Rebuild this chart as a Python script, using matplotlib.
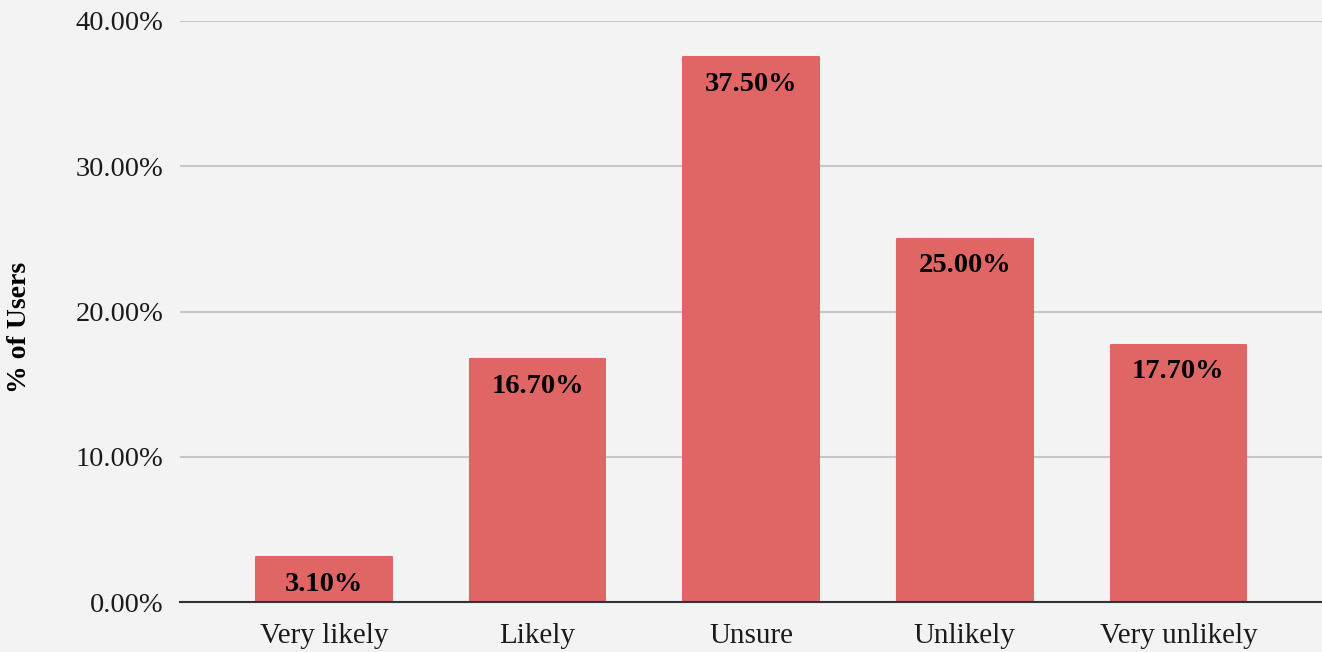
import matplotlib
matplotlib.use("Agg")
import matplotlib.pyplot as plt
from matplotlib.ticker import FuncFormatter

categories = ["Very likely", "Likely", "Unsure", "Unlikely", "Very unlikely"]
values = [3.10, 16.70, 37.50, 25.00, 17.70]
yticks = [0, 10, 20, 30, 40]

plt.rcParams['font.family'] = ['Liberation Serif', 'DejaVu Serif']

bg = "#f3f3f3"
bar_color = "#e06666"

fig = plt.figure(figsize=(13.22, 6.52), dpi=100, facecolor=bg)
ax = fig.add_axes([180/1322, 50/652, 1 - 180/1322, (602-21)/652])
ax.set_facecolor(bg)

x = list(range(len(categories)))
bars = ax.bar(x, values, width=0.635, color=bar_color, edgecolor=bar_color,
              linewidth=1.5, joinstyle='round', zorder=3)

for xi, v in zip(x, values):
    ax.annotate(f"{v:.2f}%", xy=(xi, v), xytext=(0, -19.5), textcoords="offset points",
                ha="center", va="center", fontsize=20.5, fontweight="bold", color="black", zorder=4)

ax.set_xlim(-0.674, 4.672)
ax.set_ylim(0, 40)
ax.set_yticks(yticks)
ax.yaxis.set_major_formatter(FuncFormatter(lambda v, p: f"{v:.2f}%"))
ax.set_xticks(x)
ax.set_xticklabels(categories)
ax.tick_params(axis='both', length=0, colors='#1a1a1a')
ax.tick_params(axis='y', pad=12, labelsize=20.5)
ax.tick_params(axis='x', pad=15, labelsize=21)

ax.grid(axis='y', color='#c6c6c6', linewidth=1.5, zorder=0)
for s in ['top', 'right', 'left']:
    ax.spines[s].set_visible(False)
ax.spines['bottom'].set_color('#333333')
ax.spines['bottom'].set_linewidth(1.5)
ax.spines['bottom'].set_zorder(5)

fig.text(20/1322, 1 - 327/652, "% of Users", rotation=90, ha='center', va='center',
         fontsize=20, fontweight='bold', color='black')

fig.savefig("out.png", dpi=100, facecolor=bg)
